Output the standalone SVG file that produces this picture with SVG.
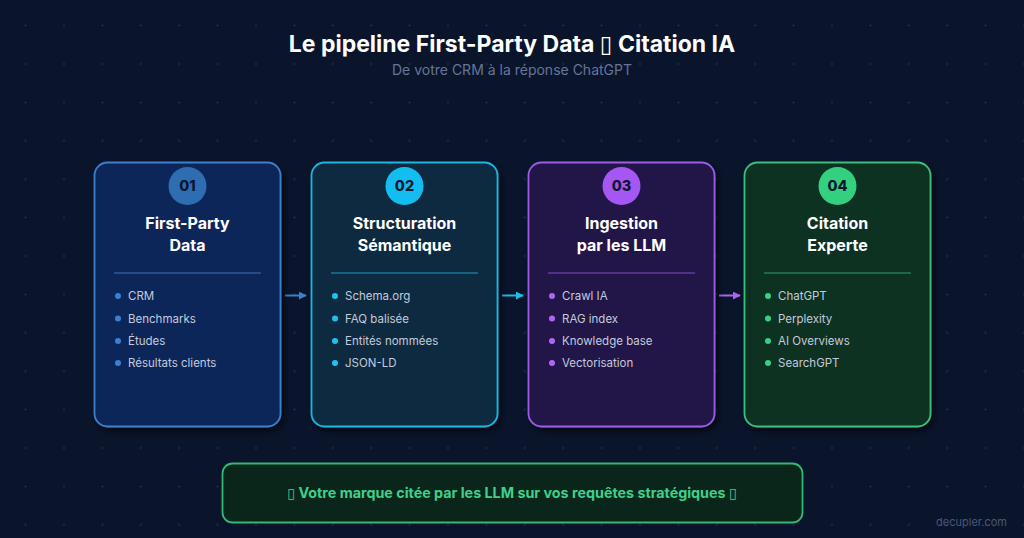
<svg xmlns="http://www.w3.org/2000/svg" width="1024" height="538" viewBox="0 0 1024 538">
<defs>
<pattern id="dots" patternUnits="userSpaceOnUse" x="6.4" y="6.4" width="38.4" height="38.4">
<circle cx="19.2" cy="19.2" r="1" fill="#25324f"/>
</pattern>
<filter id="sh" x="-10%" y="-10%" width="130%" height="130%">
<feDropShadow dx="3" dy="4" stdDeviation="3" flood-color="#000" flood-opacity="0.55"/>
</filter>
<marker id="ah1" viewBox="0 0 10 10" refX="9" refY="5" markerWidth="4" markerHeight="4" orient="auto"><path d="M0,0 L10,5 L0,10 z" fill="#3a7fce"/></marker>
<marker id="ah2" viewBox="0 0 10 10" refX="9" refY="5" markerWidth="4" markerHeight="4" orient="auto"><path d="M0,0 L10,5 L0,10 z" fill="#1cbde8"/></marker>
<marker id="ah3" viewBox="0 0 10 10" refX="9" refY="5" markerWidth="4" markerHeight="4" orient="auto"><path d="M0,0 L10,5 L0,10 z" fill="#ad62f2"/></marker>
</defs>
<style>
.title{font-family:Inter,"Open Sans","DejaVu Sans",sans-serif;font-weight:700;font-size:23px;fill:#ffffff}
.sub{font-family:Inter,"Open Sans",sans-serif;font-size:14px;fill:#66749a}
.card{stroke-width:1.8;filter:url(#sh)}
.num{font-family:Inter,"Open Sans",sans-serif;font-weight:800;font-size:14.5px;fill:#0c1830;text-anchor:middle}
.ctitle{font-family:Inter,"Open Sans",sans-serif;font-weight:700;font-size:16px;fill:#ffffff;text-anchor:middle}
.item{font-family:Inter,"Open Sans",sans-serif;font-size:11.5px;fill:#c3cbdc}
.banner{font-family:Inter,"Open Sans","DejaVu Sans",sans-serif;font-weight:700;font-size:14.3px;fill:#3fd08a;text-anchor:middle}
.wm{font-family:Inter,"Open Sans",sans-serif;font-size:11px;fill:#4b5778}
.sep{stroke-width:1}
</style>
<rect width="1024" height="538" fill="#0a142b"/>
<rect width="1024" height="538" fill="url(#dots)"/>

<text class="title" x="512" y="52" text-anchor="middle">Le pipeline First-Party Data ▯ Citation IA</text>
<text class="sub" x="512" y="75" text-anchor="middle">De votre CRM à la réponse ChatGPT</text>

<g id="connectors">
<line x1="285" y1="295.5" x2="306" y2="295.5" stroke="#3a7fce" stroke-width="2" marker-end="url(#ah1)"/>
<line x1="502" y1="295.5" x2="523" y2="295.5" stroke="#1cbde8" stroke-width="2" marker-end="url(#ah2)"/>
<line x1="719" y1="295.5" x2="740" y2="295.5" stroke="#ad62f2" stroke-width="2" marker-end="url(#ah3)"/>
</g>

<g id="node-01">
<rect class="card" x="94.5" y="162.5" width="186" height="264" rx="13" fill="#10275a" stroke="#3a7fce"/>
<circle cx="187.5" cy="186" r="19" fill="#2f6db3"/>
<text class="num" x="187.5" y="191">01</text>
<text class="ctitle" x="187.5" y="229">First-Party</text>
<text class="ctitle" x="187.5" y="251">Data</text>
<line class="sep" x1="114" y1="273" x2="261" y2="273" stroke="#3a73b8"/>
<g fill="#3a80cf"><circle cx="118" cy="296" r="3"/><circle cx="118" cy="318.5" r="3"/><circle cx="118" cy="341" r="3"/><circle cx="118" cy="363" r="3"/></g>
<text class="item" x="128" y="300">CRM</text>
<text class="item" x="128" y="322.5">Benchmarks</text>
<text class="item" x="128" y="345">Études</text>
<text class="item" x="128" y="367">Résultats clients</text>
</g>

<g id="node-02">
<rect class="card" x="311.5" y="162.5" width="186" height="264" rx="13" fill="#0b2a40" stroke="#1cb6df"/>
<circle cx="404.5" cy="186" r="19" fill="#14bdf0"/>
<text class="num" x="404.5" y="191">02</text>
<text class="ctitle" x="404.5" y="229">Structuration</text>
<text class="ctitle" x="404.5" y="251">Sémantique</text>
<line class="sep" x1="331" y1="273" x2="478" y2="273" stroke="#1c9cc4"/>
<g fill="#1ec2ef"><circle cx="335" cy="296" r="3"/><circle cx="335" cy="318.5" r="3"/><circle cx="335" cy="341" r="3"/><circle cx="335" cy="363" r="3"/></g>
<text class="item" x="345" y="300">Schema.org</text>
<text class="item" x="345" y="322.5">FAQ balisée</text>
<text class="item" x="345" y="345">Entités nommées</text>
<text class="item" x="345" y="367">JSON-LD</text>
</g>

<g id="node-03">
<rect class="card" x="528.5" y="162.5" width="186" height="264" rx="13" fill="#22124a" stroke="#9d5ce6"/>
<circle cx="621.5" cy="186" r="19" fill="#a457f3"/>
<text class="num" x="621.5" y="191">03</text>
<text class="ctitle" x="621.5" y="229">Ingestion</text>
<text class="ctitle" x="621.5" y="251">par les LLM</text>
<line class="sep" x1="548" y1="273" x2="695" y2="273" stroke="#7e4cc4"/>
<g fill="#b066f3"><circle cx="552" cy="296" r="3"/><circle cx="552" cy="318.5" r="3"/><circle cx="552" cy="341" r="3"/><circle cx="552" cy="363" r="3"/></g>
<text class="item" x="562" y="300">Crawl IA</text>
<text class="item" x="562" y="322.5">RAG index</text>
<text class="item" x="562" y="345">Knowledge base</text>
<text class="item" x="562" y="367">Vectorisation</text>
</g>

<g id="node-04">
<rect class="card" x="744.5" y="162.5" width="186" height="264" rx="13" fill="#093024" stroke="#39c07c"/>
<circle cx="837.5" cy="186" r="19" fill="#33d07f"/>
<text class="num" x="837.5" y="191">04</text>
<text class="ctitle" x="837.5" y="229">Citation</text>
<text class="ctitle" x="837.5" y="251">Experte</text>
<line class="sep" x1="764" y1="273" x2="911" y2="273" stroke="#2f9e68"/>
<g fill="#38d083"><circle cx="768" cy="296" r="3"/><circle cx="768" cy="318.5" r="3"/><circle cx="768" cy="341" r="3"/><circle cx="768" cy="363" r="3"/></g>
<text class="item" x="778" y="300">ChatGPT</text>
<text class="item" x="778" y="322.5">Perplexity</text>
<text class="item" x="778" y="345">AI Overviews</text>
<text class="item" x="778" y="367">SearchGPT</text>
</g>

<g id="banner">
<rect x="222.5" y="463.5" width="580" height="59" rx="10" fill="#0a261a" stroke="#35b877" stroke-width="1.8"/>
<text class="banner" x="512" y="498">▯ Votre marque citée par les LLM sur vos requêtes stratégiques ▯</text>
</g>

<text class="wm" x="1007" y="526" text-anchor="end">decupler.com</text>
</svg>
